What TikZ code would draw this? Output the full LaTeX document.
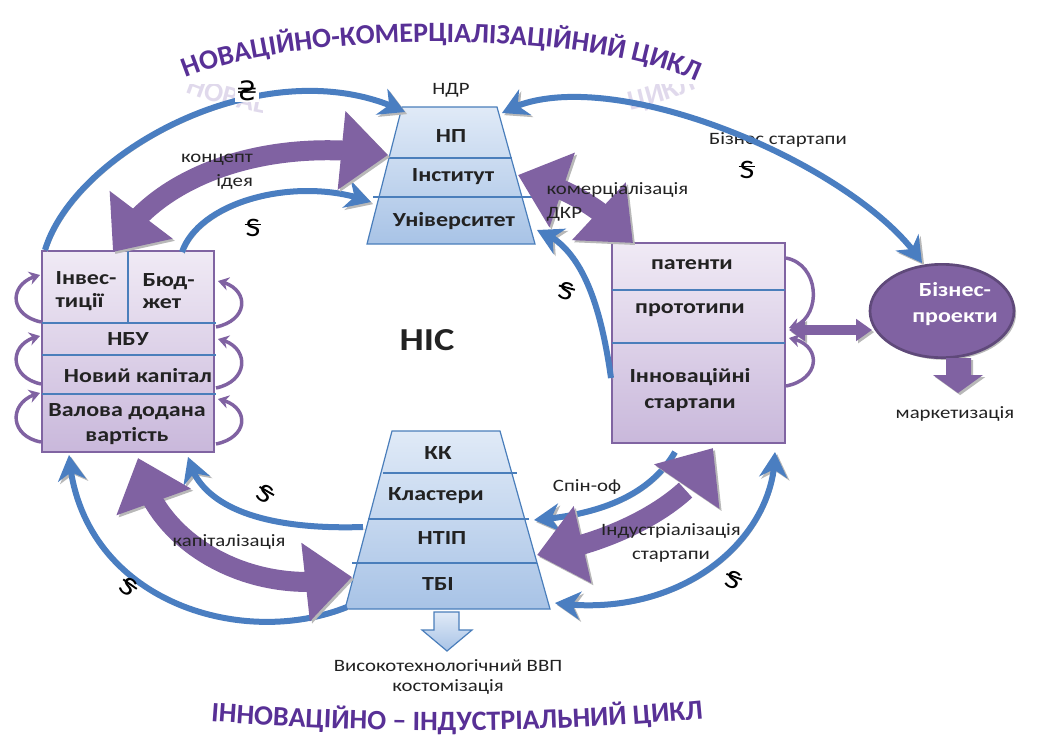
\documentclass[tikz,border=0pt]{standalone}
\usepackage{fontspec}
\setmainfont{Carlito}[FakeStretch=1.2]
\newfontfamily\ttlfam{Carlito}
\newfontfamily\symfont{DejaVu Sans}
\usetikzlibrary{arrows.meta,bending,shapes.geometric,decorations.text}
\definecolor{arrblue}{RGB}{74,126,193}
\definecolor{arrpurple}{RGB}{128,98,162}
\definecolor{elldark}{RGB}{95,73,122}
\definecolor{ttlpurple}{RGB}{88,48,150}
\definecolor{boxtop}{RGB}{240,234,245}
\definecolor{boxbot}{RGB}{201,184,219}
\definecolor{boxline}{RGB}{128,100,162}
\definecolor{trtop}{RGB}{224,234,247}
\definecolor{trbot}{RGB}{168,195,230}
\definecolor{trline}{RGB}{74,126,187}
\definecolor{txt}{RGB}{34,34,34}
\newcommand{\sss}{\ooalign{S\cr\hidewidth\rule[0.42em]{0.62em}{0.07em}\hidewidth\cr}}
\newcommand{\ttlfont}{\ttlfam\bfseries\fontsize{21}{21}\selectfont}
\begin{document}
\begin{tikzpicture}[x=0.75pt,y=-0.75pt,
  shadowed/.style={preaction={draw=black!28, transform canvas={shift={(1.6pt,-1.6pt)}}}},
  shadowf/.style={preaction={fill=black!28, transform canvas={shift={(1.6pt,-1.6pt)}}}},
  bt/.tip={Stealth[length=19pt,width=21pt,inset=6pt]},
  ptt/.tip={Triangle[length=35pt,width=57pt]},
  barrow/.style={draw=arrblue, line width=4.5pt, shadowed},
  parrow/.style={draw=arrpurple, line width=15pt, shadowed},
  selfloop/.style={draw=arrpurple, line width=2.6pt, -{Stealth[length=8pt,width=10pt]}},
  lbl/.style={font=\fontsize{13}{18}\selectfont, text=txt, inner sep=1pt},
  blbl/.style={font=\bfseries\fontsize{15}{17}\selectfont, text=txt, inner sep=1pt},
  sym/.style={font=\fontsize{20}{20}\selectfont, text=black, inner sep=1pt},
  boxsh/.style={top color=boxtop, bottom color=boxbot, draw=boxline, line width=1pt},
  trsh/.style={top color=trtop, bottom color=trbot, draw=trline, line width=0.9pt},
  divb/.style={draw=trline, line width=0.9pt},
  ttlpath/.style={decorate, decoration={text along path, text align=center, text color=ttlpurple,
    text={|\ttlfont|НОВАЦІЙНО-КОМЕРЦІАЛІЗАЦІЙНИЙ ЦИКЛ}}}
]
\useasboundingbox (0,0) rectangle (1040,739);
\fill[white] (0,0) rectangle (1040,739);

% titles
\path[ttlpath] (176,82) .. controls (290,28) and (600,28) .. (706,86);
% faint reflection at the ends of the top title
\begin{scope}
  \clip (150,84) rectangle (262,112) (625,84) rectangle (730,112);
  \begin{scope}[shift={(0,170)}, yscale=-1, opacity=0.18]
    \path[ttlpath] (176,82) .. controls (290,28) and (600,28) .. (706,86);
  \end{scope}
\end{scope}
\path[decorate, decoration={text along path, text align=center, text color=ttlpurple,
  text={|\ttlfont|ІННОВАЦІЙНО – ІНДУСТРІАЛЬНИЙ ЦИКЛ}}]
  (206,721) .. controls (380,734) and (540,734) .. (708,718);

% top trapezoid
\path[trsh] (402,107) -- (497,107) -- (535,244) -- (367,244) -- cycle;
\draw[divb] (389,158) -- (512,158);
\draw[divb] (373,197) -- (532,197);
% bottom trapezoid
\path[trsh] (392,431) -- (500,431) -- (550,609) -- (345,609) -- cycle;
\draw[divb] (383,473) -- (517,473);
\draw[divb] (368,519) -- (529,519);
\draw[divb] (352,563) -- (537,563);
% hollow arrow under bottom trapezoid
\path[trsh] (434,612) -- (459,612) -- (459,630) -- (472,630) -- (447,651) -- (422,630) -- (434,630) -- cycle;

% left box
\path[boxsh] (42,251) rectangle (214,452);
\draw[divb] (128,251) -- (128,323);
\draw[divb] (42,323) -- (216,323);
\draw[divb] (42,355) -- (216,355);
\draw[divb] (42,394) -- (216,394);
% right box
\path[boxsh] (612,243) rectangle (785,443);
\draw[divb] (612,290) -- (785,290);
\draw[divb] (612,343) -- (785,343);

% ellipse
\node[ellipse, draw=elldark, line width=2pt, fill=arrpurple, minimum width=108pt, minimum height=70pt,
  shadowf] (bp) at (942,311) {};
\node[font=\bfseries\fontsize{15}{19}\selectfont, text=white, align=center] (bpt) at (955,304) {Бізнес-\\проекти};
\path[fill=arrpurple, shadowf] (946,358) -- (971,358) -- (971,375) -- (983,375) -- (958,393) -- (933,375) -- (946,375) -- cycle;
\coordinate (hs) at (789,330);
\coordinate (he) at (872,330);
\draw[draw=arrpurple, line width=7.5pt, shadowed, {Triangle[length=12pt,width=16pt]}-{Triangle[length=12pt,width=16pt]}] (hs) -- (he);

% label under arcs
\node[lbl] (bs) at (778,140) {Бізнес стартапи};

% coordinates for connectors
\coordinate (b1s) at (45,250);  \coordinate (b1e) at (405,112);
\coordinate (b2s) at (182,252); \coordinate (b2e) at (371,202);
\coordinate (b3s) at (502,113); \coordinate (b3e) at (922,263);
\coordinate (b4s) at (611,378); \coordinate (b4e) at (537,230);
\coordinate (b5s) at (675,452); \coordinate (b5e) at (534,520);
\coordinate (b6s) at (555,603); \coordinate (b6e) at (775,452);
\coordinate (b7s) at (363,527); \coordinate (b7e) at (188,457);
\coordinate (b8s) at (347,607); \coordinate (b8e) at (69,455);
\coordinate (p1s) at (113,252); \coordinate (p1e) at (388,155);
\coordinate (p2s) at (518,175); \coordinate (p2e) at (633,243);
\coordinate (p3s) at (138,458); \coordinate (p3e) at (352,577);
\coordinate (p4s) at (713,448); \coordinate (p4e) at (537,555);

% blue arrows
\draw[barrow, -{bt}] (b1s) .. controls (75,150) and (270,45) .. (b1e);
\draw[barrow, -{bt}] (b2s) .. controls (200,200) and (300,175) .. (b2e);
\draw[barrow, {bt}-{bt}] (b3s) .. controls (600,55) and (860,165) .. (b3e);
\draw[barrow, -{bt}] (b4s) .. controls (600,300) and (580,245) .. (b4e);
\draw[barrow, -{bt}] (b5s) .. controls (650,495) and (600,515) .. (b5e);
\draw[barrow, {bt}-{bt}] (b6s) .. controls (680,620) and (775,540) .. (b6e);
\draw[barrow, -{bt}] (b7s) .. controls (270,530) and (200,510) .. (b7e);
\draw[barrow, -{bt}] (b8s) .. controls (240,650) and (80,600) .. (b8e);

% purple arrows
\draw[parrow, {ptt}-{ptt}] (p1s) .. controls (150,180) and (260,135) .. (p1e);
\draw[parrow, {ptt}-{ptt}] (p2s) .. controls (560,185) and (600,205) .. (p2e);
\draw[parrow, {ptt}-{ptt}] (p3s) .. controls (150,540) and (250,600) .. (p3e);
\draw[parrow, {ptt}-{ptt}] (p4s) .. controls (705,490) and (630,540) .. (p4e);

% self loops
\draw[selfloop] (41,322) .. controls (8,315) and (8,282) .. (40,275);
\draw[selfloop] (41,384) .. controls (8,377) and (8,342) .. (40,336);
\draw[selfloop] (41,442) .. controls (8,436) and (8,400) .. (40,393);
\draw[selfloop] (216,327) .. controls (250,320) and (250,287) .. (218,281);
\draw[selfloop] (216,388) .. controls (250,381) and (250,345) .. (218,339);
\draw[selfloop] (216,444) .. controls (250,437) and (250,405) .. (218,399);
\draw[selfloop] (786,258) .. controls (822,265) and (822,322) .. (789,328);
\draw[selfloop] (786,386) .. controls (822,379) and (822,343) .. (789,338);

% box labels
\node[lbl] (ndr) at (451,90) {НДР};
\node[blbl] (np) at (451,136) {НП};
\node[blbl] (inst) at (453,177) {Інститут};
\node[blbl] (univ) at (454,221) {Університет};
\node[blbl] (kk) at (438,453) {КК};
\node[blbl] (kl) at (436,496) {Кластери};
\node[blbl] (ntip) at (442,538) {НТІП};
\node[blbl] (tbi) at (438,584) {ТБІ};
\node[blbl, anchor=west, align=left] (inv) at (54,291) {Інвес-\\тиції};
\node[blbl, anchor=west, align=left] (bud) at (141,291) {Бюд-\\жет};
\node[blbl] (nbu) at (128,339) {НБУ};
\node[blbl] (nk) at (138,376) {Новий капітал};
\node[blbl, align=center, font=\bfseries\fontsize{15}{19}\selectfont] (vdv) at (127,424) {Валова додана\\вартість};
\node[blbl] (pat) at (692,265) {патенти};
\node[blbl] (proto) at (690,310) {прототипи};
\node[blbl, align=center, font=\bfseries\fontsize{15}{19.5}\selectfont] (ins) at (690,390) {Інноваційні\\стартапи};
\node[font=\bfseries\fontsize{24}{26}\selectfont, text=txt] (nis) at (427,340) {НІС};

% arrow labels
\node[lbl, align=right] (ki) at (217,172) {концепт\\ідея};
\node[lbl, align=left, anchor=west] (kd) at (545,202) {комерціалізація\\ДКР};
\node[lbl] (so) at (587,487) {Спін-оф};
\node[lbl, align=center] (is) at (671,543) {Індустріалізація\\стартапи};
\node[lbl] (kap) at (229,542) {капіталізація};
\node[lbl] (vvp) at (448,666) {Високотехнологічний ВВП};
\node[lbl] (kost) at (448,687) {костомізація};
\node[lbl] (mark) at (955,414) {маркетизація};

% currency symbols
\node[sym, fill=white] (s1) at (247,91) {\symfont ₴};
\node[sym] (s2) at (253,228) {\sss};
\node[sym] (s3) at (747,170) {\sss};
\node[sym, rotate=-15] (s4) at (566,291) {\sss};
\node[sym, rotate=-30] (s5) at (265,494) {\sss};
\node[sym, rotate=-35] (s6) at (128,587) {\sss};
\node[sym, rotate=-20] (s7) at (733,580) {\sss};
\end{tikzpicture}
\end{document}
